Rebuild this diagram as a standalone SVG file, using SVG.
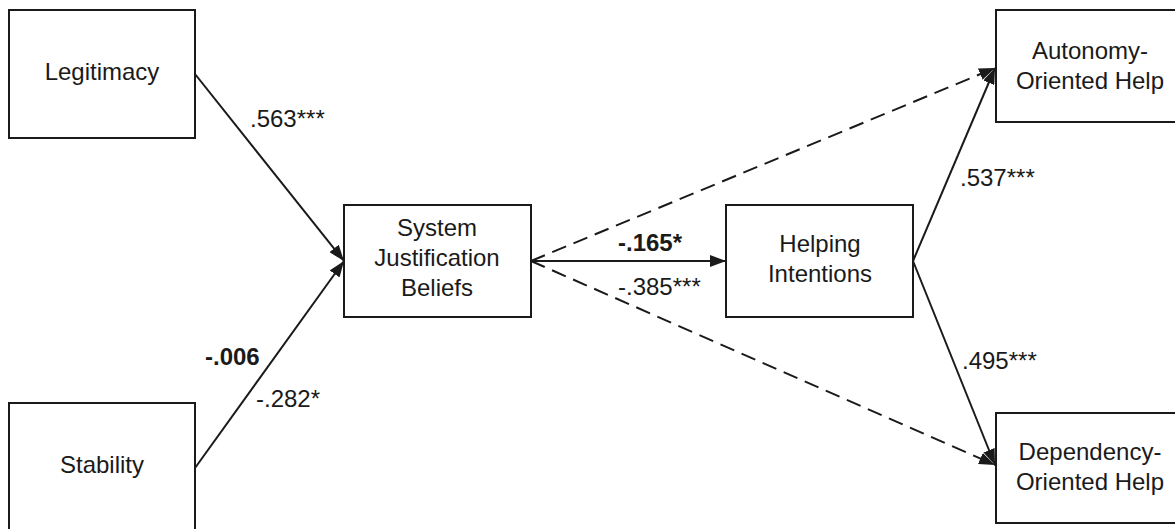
<svg xmlns="http://www.w3.org/2000/svg" width="1175" height="529" viewBox="0 0 1175 529">
<style>
.box{fill:#fff;stroke:#1a1a1a;stroke-width:2}
.t{font-family:"Liberation Sans",Arial,sans-serif;font-size:24px;fill:#1a1a1a;text-anchor:middle}
.l{font-family:"Liberation Sans",Arial,sans-serif;font-size:24px;fill:#1a1a1a}
.b{font-weight:bold}
.c{fill:none;stroke:#1a1a1a;stroke-width:2}
.d{stroke-dasharray:15 8}
</style>
<defs>
<marker id="ah" viewBox="0 0 16 12" refX="16" refY="6" markerWidth="16" markerHeight="12" markerUnits="userSpaceOnUse" orient="auto">
<path d="M0,0 L16,6 L0,12 z" fill="#1a1a1a"/>
</marker>
</defs>
<rect width="1175" height="529" fill="#fff"/>
<g id="connectors">
<line class="c" x1="195" y1="74" x2="344" y2="261" marker-end="url(#ah)"/>
<line class="c" x1="195" y1="468" x2="344" y2="261" marker-end="url(#ah)"/>
<line class="c" x1="531" y1="261" x2="726" y2="261" marker-end="url(#ah)"/>
<line class="c d" x1="531" y1="261" x2="995" y2="68" marker-end="url(#ah)"/>
<line class="c d" x1="531" y1="261" x2="995" y2="465" marker-end="url(#ah)"/>
<line class="c" x1="913" y1="261" x2="995" y2="68" marker-end="url(#ah)"/>
<line class="c" x1="913" y1="261" x2="995" y2="465" marker-end="url(#ah)"/>
</g>
<g id="labels">
<text class="l" x="250" y="127">.563***</text>
<text class="l b" x="205" y="365">-.006</text>
<text class="l" x="256" y="407">-.282*</text>
<text class="l b" x="618" y="251">-.165*</text>
<text class="l" x="618" y="295">-.385***</text>
<text class="l" x="960" y="186">.537***</text>
<text class="l" x="962" y="369">.495***</text>
</g>
<g id="legitimacy">
<rect class="box" x="9" y="10" width="186" height="128"/>
<text class="t" x="102" y="80">Legitimacy</text>
</g>
<g id="stability">
<rect class="box" x="9" y="403" width="186" height="140"/>
<text class="t" x="102" y="473">Stability</text>
</g>
<g id="sjb">
<rect class="box" x="344" y="205" width="187" height="112"/>
<text class="t" x="437" y="236">System</text>
<text class="t" x="437" y="266">Justification</text>
<text class="t" x="437" y="296">Beliefs</text>
</g>
<g id="helping">
<rect class="box" x="726" y="205" width="187" height="112"/>
<text class="t" x="820" y="252">Helping</text>
<text class="t" x="820" y="282">Intentions</text>
</g>
<g id="autonomy">
<rect class="box" x="996" y="10" width="190" height="112"/>
<text class="t" x="1090" y="59">Autonomy-</text>
<text class="t" x="1090" y="89">Oriented Help</text>
</g>
<g id="dependency">
<rect class="box" x="996" y="413" width="190" height="110"/>
<text class="t" x="1090" y="460">Dependency-</text>
<text class="t" x="1090" y="490">Oriented Help</text>
</g>
</svg>
